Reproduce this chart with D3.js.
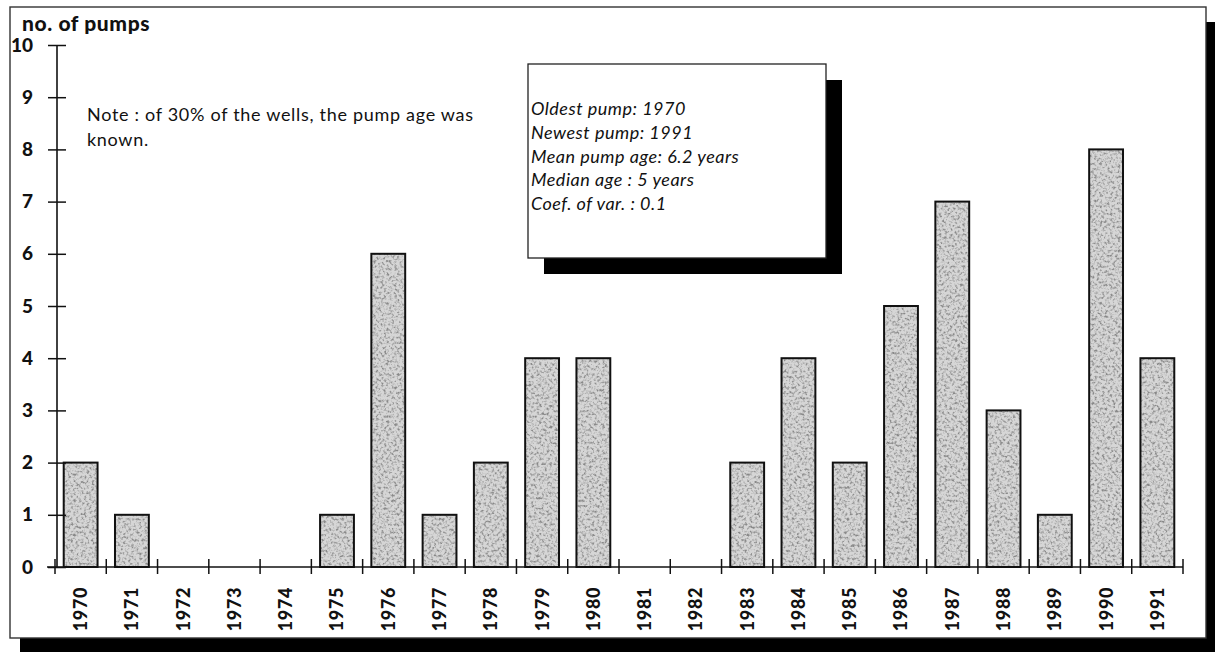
<!DOCTYPE html>
<html>
<head>
<meta charset="utf-8">
<script src="https://cdn.jsdelivr.net/npm/d3@7"></script>
<style>
  html, body { margin: 0; padding: 0; background: #fff; }
  svg { display: block; }
  text { font-family: Lato, "Open Sans", "DejaVu Sans", sans-serif; fill: #111; }
</style>
</head>
<body>
<svg id="chart" width="1215" height="653"></svg>
<script>
// Pumps installed per year
const years = ["1970","1971","1972","1973","1974","1975","1976","1977","1978","1979","1980",
               "1981","1982","1983","1984","1985","1986","1987","1988","1989","1990","1991"];
const pumps = [2, 1, 0, 0, 0, 1, 6, 1, 2, 4, 4, 0, 0, 2, 4, 2, 5, 7, 3, 1, 8, 4];
const yTicks = [0, 1, 2, 3, 4, 5, 6, 7, 8, 9, 10];
const yTitle = "no. of pumps";
const noteLines = ["Note : of 30% of the wells, the pump age was", "known."];
const statLines = ["Oldest pump: 1970", "Newest pump: 1991", "Mean pump age: 6.2 years",
                   "Median age : 5 years", "Coef. of var. : 0.1"];

const svg = d3.select("#chart");
const defs = svg.append("defs");

// Stippled grey texture for the bars
const grain = defs.append("filter").attr("id", "grain")
  .attr("x", 0).attr("y", 0).attr("width", 1).attr("height", 1);
grain.append("feTurbulence").attr("type", "fractalNoise")
  .attr("baseFrequency", 0.38).attr("numOctaves", 2).attr("seed", 7).attr("result", "noise");
grain.append("feColorMatrix").attr("in", "noise").attr("type", "matrix")
  .attr("values", "0 0 0 0 0.25  0 0 0 0 0.25  0 0 0 0 0.25  -3.2 0 0 0 1.75").attr("result", "dots");
grain.append("feComposite").attr("in", "dots").attr("in2", "SourceGraphic")
  .attr("operator", "in").attr("result", "dotsIn");
grain.append("feMerge").call(m => {
  m.append("feMergeNode").attr("in", "SourceGraphic");
  m.append("feMergeNode").attr("in", "dotsIn");
});

// Outer frame with drop shadow
svg.append("rect").attr("x", 20).attr("y", 22).attr("width", 1196).attr("height", 630).attr("fill", "#000");
svg.append("rect").attr("x", 10).attr("y", 7).attr("width", 1196).attr("height", 631)
  .attr("fill", "#fff").attr("stroke", "#333").attr("stroke-width", 1.4);

// Scales
const x = d3.scaleBand().domain(years).range([55, 1183]).padding(0);
const y = d3.scaleLinear().domain([0, 10]).range([567, 45]);
const bw = x.bandwidth();

// Bars
const bars = svg.append("g");
bars.selectAll("rect.fill").data(years).join("rect")
  .attr("class", "fill")
  .attr("x", d => x(d) + bw * 0.17)
  .attr("width", bw * 0.66)
  .attr("y", (d, i) => y(pumps[i]))
  .attr("height", (d, i) => y(0) - y(pumps[i]))
  .attr("fill", "#d6d6d6")
  .attr("filter", "url(#grain)");
bars.selectAll("rect.edge").data(years).join("rect")
  .attr("class", "edge")
  .attr("x", d => x(d) + bw * 0.17)
  .attr("width", bw * 0.66)
  .attr("y", (d, i) => y(pumps[i]))
  .attr("height", (d, i) => y(0) - y(pumps[i]))
  .attr("fill", "none")
  .attr("stroke", "#111")
  .attr("stroke-width", 2)
  .attr("display", (d, i) => pumps[i] > 0 ? null : "none");

// Y axis: ticks cross the axis line
const yAxis = svg.append("g").attr("transform", "translate(57,0)")
  .call(d3.axisLeft(y).tickValues(yTicks).tickFormat(d3.format("d")).tickSize(9).tickPadding(15));
yAxis.select(".domain").attr("stroke", "#111").attr("stroke-width", 1.6).attr("d", `M0,${y(10)}V${y(0)}`);
yAxis.selectAll(".tick line").attr("x1", -9).attr("x2", 9).attr("stroke", "#111").attr("stroke-width", 1.5);
yAxis.selectAll(".tick text").attr("font-size", 19).attr("font-weight", 900)
  .attr("font-family", "Lato, sans-serif").attr("fill", "#111");

// X axis: ticks at category boundaries, labels rotated
const xAxis = svg.append("g").attr("transform", `translate(0,${y(0)})`);
xAxis.append("line").attr("x1", 47).attr("x2", 1183).attr("y1", 0).attr("y2", 0)
  .attr("stroke", "#111").attr("stroke-width", 1.6);
const bounds = years.map(d => x(d)).concat([x.range()[1]]);
xAxis.selectAll("line.tk").data(bounds).join("line").attr("class", "tk")
  .attr("x1", d => d).attr("x2", d => d).attr("y1", -8).attr("y2", 7)
  .attr("stroke", "#111").attr("stroke-width", 1.5);
xAxis.selectAll("text").data(years).join("text")
  .attr("transform", d => `translate(${x(d) + bw / 2},20) rotate(-90)`)
  .attr("text-anchor", "end").attr("dy", "0.36em")
  .attr("font-size", 18).attr("font-weight", 900).attr("letter-spacing", 0.6)
  .text(d => d);

// Axis title
svg.append("text").attr("x", 22).attr("y", 31)
  .attr("font-size", 21).attr("font-weight", 900).attr("letter-spacing", 0.6).text(yTitle);

// Note
svg.append("g").selectAll("text").data(noteLines).join("text")
  .attr("x", 87).attr("y", (d, i) => 121 + i * 25)
  .attr("font-size", 18).attr("letter-spacing", 0.7).text(d => d);

// Summary box with shadow
svg.append("rect").attr("x", 544).attr("y", 80).attr("width", 298).attr("height", 194).attr("fill", "#000");
svg.append("rect").attr("x", 528).attr("y", 64).attr("width", 298).attr("height", 194)
  .attr("fill", "#fff").attr("stroke", "#222").attr("stroke-width", 1.3);
svg.append("g").selectAll("text").data(statLines).join("text")
  .attr("x", 531).attr("y", (d, i) => 115 + i * 23.8)
  .attr("font-size", 18).attr("font-style", "italic").attr("letter-spacing", 0.5).text(d => d);
</script>
</body>
</html>
